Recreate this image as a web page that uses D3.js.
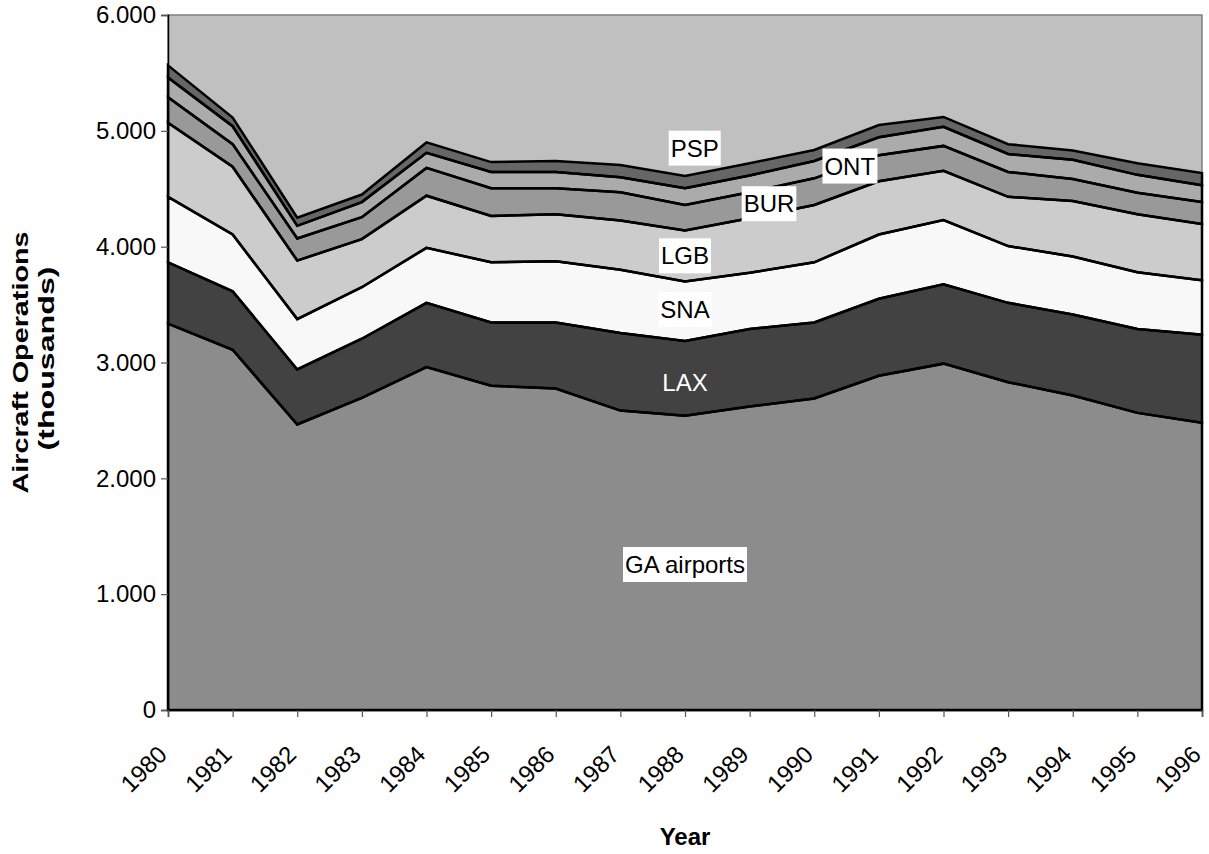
<!DOCTYPE html>
<html>
<head>
<meta charset="utf-8">
<script src="https://cdn.jsdelivr.net/npm/d3@7"></script>
<style>
  body { margin: 0; background: #ffffff; }
  svg text { font-family: "Liberation Sans", Arial, sans-serif; }
</style>
</head>
<body>
<div id="chart-area"></div>
<script>
// Aircraft operations (thousands) by year, one array per airport group
const years = [1980, 1981, 1982, 1983, 1984, 1985, 1986, 1987, 1988,
               1989, 1990, 1991, 1992, 1993, 1994, 1995, 1996];

const gaAirports = [3335, 3110, 2465, 2695, 2960, 2800, 2775, 2585, 2540,
                    2620, 2690, 2885, 2990, 2830, 2715, 2565, 2480];
const lax = [530, 505, 475, 510, 555, 545, 570, 670, 645,
             670, 655, 665, 685, 685, 700, 725, 760];
const sna = [565, 490, 435, 445, 475, 520, 530, 545, 515,
             485, 520, 555, 555, 490, 500, 490, 470];
const lgb = [640, 585, 505, 415, 450, 400, 405, 425, 440,
             470, 495, 460, 425, 425, 480, 500, 485];
const bur = [220, 195, 190, 190, 240, 240, 225, 245, 220,
             225, 230, 225, 215, 215, 190, 185, 190];
const ont = [170, 155, 110, 130, 130, 140, 140, 130, 145,
             145, 150, 155, 165, 155, 165, 155, 145];
const psp = [105, 75, 70, 65, 90, 85, 95, 105, 105,
             105, 95, 105, 85, 85, 80, 100, 105];

const seriesNames = ["GA airports", "LAX", "SNA", "LGB", "BUR", "ONT", "PSP"];
const seriesValues = [gaAirports, lax, sna, lgb, bur, ont, psp];

const yTicks = [0, 1000, 2000, 3000, 4000, 5000, 6000];

// where each series name sits, in data units (year, thousands)
const labelYears = [1988, 1988, 1988, 1988, 1989.3, 1990.55, 1988.15];
const labelValues = [1255, 2830, 3455, 3920, 4370, 4695, 4850];

// greys used for each layer
const fills = {
  "GA airports": "#8c8c8c",
  "LAX": "#424242",
  "SNA": "#f8f8f8",
  "LGB": "#cccccc",
  "BUR": "#999999",
  "ONT": "#ababab",
  "PSP": "#666666"
};

function drawChart() {
  const width = 1209;
  const height = 854;
  const margin = {left: 168, right: 7, top: 15, bottom: 144};

  const svg = d3.select("#chart-area")
    .append("svg")
    .attr("width", width)
    .attr("height", height);

  // Build rows for d3.stack from the arrays above
  const rows = years.map((yr, i) => {
    const row = {year: yr};
    seriesNames.forEach((name, k) => { row[name] = seriesValues[k][i]; });
    return row;
  });
  const stacked = d3.stack().keys(seriesNames)(rows);

  const x = d3.scaleLinear()
    .domain([years[0], years[years.length - 1]])
    .range([margin.left, width - margin.right]);
  const y = d3.scaleLinear()
    .domain([0, 6000])
    .range([height - margin.bottom, margin.top]);

  const locale = d3.formatLocale({decimal: ",", thousands: ".", grouping: [3], currency: ["", ""]});
  const fmt = locale.format(",");

  // plot background
  svg.append("rect")
    .attr("x", x.range()[0])
    .attr("y", y.range()[1])
    .attr("width", x.range()[1] - x.range()[0])
    .attr("height", y.range()[0] - y.range()[1])
    .attr("fill", "#c0c0c0")
    .attr("stroke", "#808080")
    .attr("stroke-width", 1.5);

  const area = d3.area()
    .x(d => x(d.data.year))
    .y0(d => y(d[0]))
    .y1(d => y(d[1]));

  // fills first, outlines on top so every edge shows
  svg.append("g")
    .selectAll("path")
    .data(stacked)
    .enter()
    .append("path")
    .attr("d", area)
    .attr("fill", d => fills[d.key]);

  svg.append("g")
    .selectAll("path")
    .data(stacked)
    .enter()
    .append("path")
    .attr("d", area)
    .attr("fill", "none")
    .attr("stroke", "#000")
    .attr("stroke-width", 2.5)
    .attr("stroke-linejoin", "miter");

  // y axis
  const yAxis = svg.append("g")
    .attr("transform", `translate(${margin.left},0)`)
    .call(d3.axisLeft(y).tickValues(yTicks).tickFormat(fmt).tickSize(7).tickPadding(5));
  yAxis.select(".domain").attr("stroke", "#000").attr("stroke-width", 1.5);
  yAxis.selectAll(".tick line").attr("stroke", "#555").attr("stroke-width", 1.2);
  yAxis.selectAll(".tick text")
    .attr("fill", "#000")
    .style("font-size", "24px")
    .style("font-family", "Liberation Sans, Arial, sans-serif");

  // x axis, year labels slanted
  const xAxis = svg.append("g")
    .attr("transform", `translate(0,${y(0)})`)
    .call(d3.axisBottom(x).tickValues(years).tickFormat(d3.format("d")).tickSize(7));
  xAxis.select(".domain").attr("stroke", "#000").attr("stroke-width", 1.5);
  xAxis.selectAll(".tick line").attr("stroke", "#555").attr("stroke-width", 1.2);
  xAxis.selectAll(".tick text")
    .attr("fill", "#000")
    .attr("text-anchor", "end")
    .attr("x", 0)
    .attr("y", 0)
    .attr("dy", "0.35em")
    .attr("transform", "translate(-6,40) rotate(-45)")
    .style("font-size", "24px")
    .style("font-family", "Liberation Sans, Arial, sans-serif");

  // series labels
  const labels = svg.append("g");
  seriesNames.forEach((name, k) => {
    const lx = x(labelYears[k]);
    const ly = y(labelValues[k]);
    const dark = d3.hsl(fills[name]).l < 0.35;
    const g = labels.append("g");
    const t = g.append("text")
      .attr("x", lx)
      .attr("y", ly)
      .attr("dy", "0.35em")
      .attr("text-anchor", "middle")
      .attr("fill", dark ? "#fff" : "#000")
      .style("font-size", "24px")
      .text(name);
    if (!dark) {
      const bb = t.node().getBBox();
      g.insert("rect", "text")
        .attr("x", bb.x - 2)
        .attr("y", bb.y - 4)
        .attr("width", bb.width + 4)
        .attr("height", bb.height + 8)
        .attr("fill", "#fff");
    }
  });

  // axis titles
  const midY = (y.range()[0] + y.range()[1]) / 2;
  svg.append("text")
    .attr("transform", `translate(28,${midY}) rotate(-90)`)
    .attr("text-anchor", "middle")
    .attr("textLength", 262)
    .attr("lengthAdjust", "spacingAndGlyphs")
    .style("font-size", "22px")
    .style("font-weight", "bold")
    .text("Aircraft Operations");
  svg.append("text")
    .attr("transform", `translate(54,${midY - 4}) rotate(-90)`)
    .attr("text-anchor", "middle")
    .attr("textLength", 184)
    .attr("lengthAdjust", "spacingAndGlyphs")
    .style("font-size", "22px")
    .style("font-weight", "bold")
    .text("(thousands)");

  svg.append("text")
    .attr("x", (x.range()[0] + x.range()[1]) / 2)
    .attr("y", 845)
    .attr("text-anchor", "middle")
    .style("font-size", "24px")
    .style("font-weight", "bold")
    .text("Year");
}

drawChart();
</script>
</body>
</html>
